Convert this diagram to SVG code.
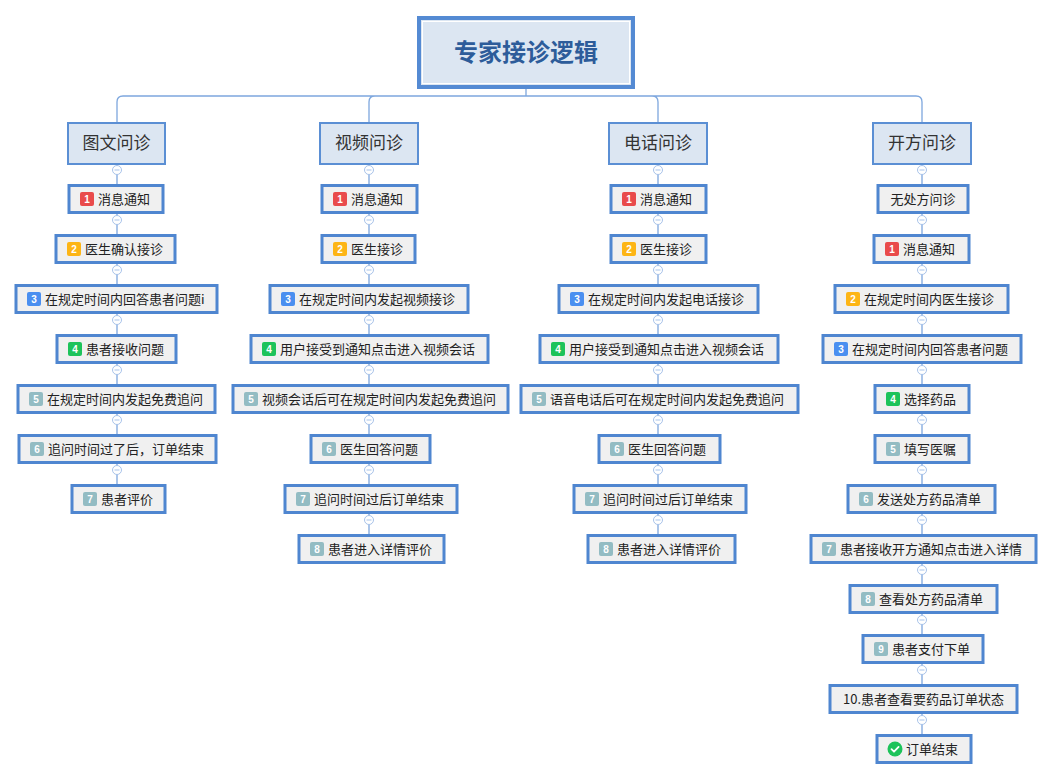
<svg xmlns="http://www.w3.org/2000/svg" width="1052" height="781" viewBox="0 0 1052 781">
<defs>
<style>
.title{fill:#dce6f2;stroke:#548ad3;stroke-width:4}
.ttl{font-family:"Noto Sans CJK SC",sans-serif;font-size:24px;font-weight:bold;fill:#2d5c9a;text-anchor:middle}
.br{fill:#dce6f2;stroke:#5b8fd4;stroke-width:2}
.brt{font-family:"Noto Sans CJK SC",sans-serif;font-size:17px;fill:#333;text-anchor:middle}
.box{fill:#f0f0f0;stroke:#4f86d0;stroke-width:3}
.t{font-family:"Noto Sans CJK SC",sans-serif;font-size:13px;fill:#222}
.tm{font-family:"Noto Sans CJK SC",sans-serif;font-size:13px;fill:#222;text-anchor:middle}
.n{font-family:"Liberation Sans",sans-serif;font-size:10px;font-weight:bold;fill:#fff;text-anchor:middle}
.b1{fill:#e94b4b}.b2{fill:#fdb515}.b3{fill:#4a8ff0}.b4{fill:#1dc35a}.b5{fill:#93bcc3}
.ln{fill:none;stroke:#7ea7de;stroke-width:1.3}
.fc{fill:#fff;stroke:#a8c3ea;stroke-width:1}
.fm{stroke:#a8c3ea;stroke-width:1}
</style>
<symbol id="fold" overflow="visible"><circle class="fc" cx="0" cy="0" r="4.5"/><line class="fm" x1="-2.5" y1="0" x2="2.5" y2="0"/></symbol>
</defs>
<rect width="1052" height="781" fill="#fff"/>
<g id="connectors">
<path class="ln" d="M526 89V96M117 122V102Q117 96 123 96H916Q922 96 922 102V122M375 96Q369 96 369 102V122M652 96Q658 96 658 102V122"/>
<path class="ln" d="M117 164V485M369 164V535M658 164V535M922 164V735"/>
<use href="#fold" x="117" y="170"/><use href="#fold" x="117" y="220"/><use href="#fold" x="117" y="270"/><use href="#fold" x="117" y="320"/><use href="#fold" x="117" y="370"/><use href="#fold" x="117" y="420"/><use href="#fold" x="117" y="470"/>
<use href="#fold" x="369" y="170"/><use href="#fold" x="369" y="220"/><use href="#fold" x="369" y="270"/><use href="#fold" x="369" y="320"/><use href="#fold" x="369" y="370"/><use href="#fold" x="369" y="420"/><use href="#fold" x="369" y="470"/><use href="#fold" x="369" y="520"/>
<use href="#fold" x="658" y="170"/><use href="#fold" x="658" y="220"/><use href="#fold" x="658" y="270"/><use href="#fold" x="658" y="320"/><use href="#fold" x="658" y="370"/><use href="#fold" x="658" y="420"/><use href="#fold" x="658" y="470"/><use href="#fold" x="658" y="520"/>
<use href="#fold" x="922" y="170"/><use href="#fold" x="922" y="220"/><use href="#fold" x="922" y="270"/><use href="#fold" x="922" y="320"/><use href="#fold" x="922" y="370"/><use href="#fold" x="922" y="420"/><use href="#fold" x="922" y="470"/><use href="#fold" x="922" y="520"/><use href="#fold" x="922" y="570"/><use href="#fold" x="922" y="620"/><use href="#fold" x="922" y="670"/><use href="#fold" x="922" y="720"/>
</g>
<g id="root"><rect class="title" x="419" y="18" width="214" height="69"/><rect x="422.5" y="21.5" width="207" height="62" fill="none" stroke="#fff" stroke-width="1"/><text class="ttl" x="526" y="61">专家接诊逻辑</text></g>
<g id="b1"><rect class="br" x="68" y="123" width="97" height="41"/><text class="brt" x="116.5" y="149">图文问诊</text></g>
<g id="b2"><rect class="br" x="320" y="123" width="98" height="41"/><text class="brt" x="369" y="149">视频问诊</text></g>
<g id="b3"><rect class="br" x="609" y="123" width="98" height="41"/><text class="brt" x="658" y="149">电话问诊</text></g>
<g id="b4"><rect class="br" x="873" y="123" width="98" height="41"/><text class="brt" x="922" y="149">开方问诊</text></g>

<g id="c1-1"><rect class="box" x="69" y="185.5" width="94" height="27"/><rect class="b1" x="80" y="192" width="14" height="14" rx="2"/><text class="n" x="87" y="202.5">1</text><text class="t" x="98" y="203.5">消息通知</text></g>
<g id="c1-2"><rect class="box" x="56" y="235.5" width="119" height="27"/><rect class="b2" x="67" y="242" width="14" height="14" rx="2"/><text class="n" x="74" y="252.5">2</text><text class="t" x="85" y="253.5">医生确认接诊</text></g>
<g id="c1-3"><rect class="box" x="16" y="285.5" width="201" height="27"/><rect class="b3" x="27" y="292" width="14" height="14" rx="2"/><text class="n" x="34" y="302.5">3</text><text class="t" x="45" y="303.5">在规定时间内回答患者问题i</text></g>
<g id="c1-4"><rect class="box" x="57" y="335.5" width="119" height="27"/><rect class="b4" x="68" y="342" width="14" height="14" rx="2"/><text class="n" x="75" y="352.5">4</text><text class="t" x="86" y="353.5">患者接收问题</text></g>
<g id="c1-5"><rect class="box" x="18" y="385.5" width="197" height="27"/><rect class="b5" x="29" y="392" width="14" height="14" rx="2"/><text class="n" x="36" y="402.5">5</text><text class="t" x="47" y="403.5">在规定时间内发起免费追问</text></g>
<g id="c1-6"><rect class="box" x="19" y="435.5" width="197" height="27"/><rect class="b5" x="30" y="442" width="14" height="14" rx="2"/><text class="n" x="37" y="452.5">6</text><text class="t" x="48" y="453.5">追问时间过了后，订单结束</text></g>
<g id="c1-7"><rect class="box" x="72" y="485.5" width="93" height="27"/><rect class="b5" x="83" y="492" width="14" height="14" rx="2"/><text class="n" x="90" y="502.5">7</text><text class="t" x="101" y="503.5">患者评价</text></g>

<g id="c2-1"><rect class="box" x="322" y="185.5" width="95" height="27"/><rect class="b1" x="333" y="192" width="14" height="14" rx="2"/><text class="n" x="340" y="202.5">1</text><text class="t" x="351" y="203.5">消息通知</text></g>
<g id="c2-2"><rect class="box" x="322" y="235.5" width="93" height="27"/><rect class="b2" x="333" y="242" width="14" height="14" rx="2"/><text class="n" x="340" y="252.5">2</text><text class="t" x="351" y="253.5">医生接诊</text></g>
<g id="c2-3"><rect class="box" x="270" y="285.5" width="198" height="27"/><rect class="b3" x="281" y="292" width="14" height="14" rx="2"/><text class="n" x="288" y="302.5">3</text><text class="t" x="299" y="303.5">在规定时间内发起视频接诊</text></g>
<g id="c2-4"><rect class="box" x="251" y="335.5" width="237" height="27"/><rect class="b4" x="262" y="342" width="14" height="14" rx="2"/><text class="n" x="269" y="352.5">4</text><text class="t" x="280" y="353.5">用户接受到通知点击进入视频会话</text></g>
<g id="c2-5"><rect class="box" x="233" y="385.5" width="275" height="27"/><rect class="b5" x="244" y="392" width="14" height="14" rx="2"/><text class="n" x="251" y="402.5">5</text><text class="t" x="262" y="403.5">视频会话后可在规定时间内发起免费追问</text></g>
<g id="c2-6"><rect class="box" x="311" y="435.5" width="119" height="27"/><rect class="b5" x="322" y="442" width="14" height="14" rx="2"/><text class="n" x="329" y="452.5">6</text><text class="t" x="340" y="453.5">医生回答问题</text></g>
<g id="c2-7"><rect class="box" x="285" y="485.5" width="172" height="27"/><rect class="b5" x="296" y="492" width="14" height="14" rx="2"/><text class="n" x="303" y="502.5">7</text><text class="t" x="314" y="503.5">追问时间过后订单结束</text></g>
<g id="c2-8"><rect class="box" x="299" y="535.5" width="145" height="27"/><rect class="b5" x="310" y="542" width="14" height="14" rx="2"/><text class="n" x="317" y="552.5">8</text><text class="t" x="328" y="553.5">患者进入详情评价</text></g>

<g id="c3-1"><rect class="box" x="611" y="185.5" width="95" height="27"/><rect class="b1" x="622" y="192" width="14" height="14" rx="2"/><text class="n" x="629" y="202.5">1</text><text class="t" x="640" y="203.5">消息通知</text></g>
<g id="c3-2"><rect class="box" x="611" y="235.5" width="95" height="27"/><rect class="b2" x="622" y="242" width="14" height="14" rx="2"/><text class="n" x="629" y="252.5">2</text><text class="t" x="640" y="253.5">医生接诊</text></g>
<g id="c3-3"><rect class="box" x="559" y="285.5" width="199" height="27"/><rect class="b3" x="570" y="292" width="14" height="14" rx="2"/><text class="n" x="577" y="302.5">3</text><text class="t" x="588" y="303.5">在规定时间内发起电话接诊</text></g>
<g id="c3-4"><rect class="box" x="540" y="335.5" width="238" height="27"/><rect class="b4" x="551" y="342" width="14" height="14" rx="2"/><text class="n" x="558" y="352.5">4</text><text class="t" x="569" y="353.5">用户接受到通知点击进入视频会话</text></g>
<g id="c3-5"><rect class="box" x="521" y="385.5" width="277" height="27"/><rect class="b5" x="532" y="392" width="14" height="14" rx="2"/><text class="n" x="539" y="402.5">5</text><text class="t" x="550" y="403.5">语音电话后可在规定时间内发起免费追问</text></g>
<g id="c3-6"><rect class="box" x="599" y="435.5" width="121" height="27"/><rect class="b5" x="610" y="442" width="14" height="14" rx="2"/><text class="n" x="617" y="452.5">6</text><text class="t" x="628" y="453.5">医生回答问题</text></g>
<g id="c3-7"><rect class="box" x="574" y="485.5" width="172" height="27"/><rect class="b5" x="585" y="492" width="14" height="14" rx="2"/><text class="n" x="592" y="502.5">7</text><text class="t" x="603" y="503.5">追问时间过后订单结束</text></g>
<g id="c3-8"><rect class="box" x="588" y="535.5" width="147" height="27"/><rect class="b5" x="599" y="542" width="14" height="14" rx="2"/><text class="n" x="606" y="552.5">8</text><text class="t" x="617" y="553.5">患者进入详情评价</text></g>

<g id="c4-0"><rect class="box" x="878" y="185.5" width="90" height="27"/><text class="tm" x="923" y="203.5">无处方问诊</text></g>
<g id="c4-1"><rect class="box" x="874" y="235.5" width="95" height="27"/><rect class="b1" x="885" y="242" width="14" height="14" rx="2"/><text class="n" x="892" y="252.5">1</text><text class="t" x="903" y="253.5">消息通知</text></g>
<g id="c4-2"><rect class="box" x="835" y="285.5" width="173" height="27"/><rect class="b2" x="846" y="292" width="14" height="14" rx="2"/><text class="n" x="853" y="302.5">2</text><text class="t" x="864" y="303.5">在规定时间内医生接诊</text></g>
<g id="c4-3"><rect class="box" x="823" y="335.5" width="198" height="27"/><rect class="b3" x="834" y="342" width="14" height="14" rx="2"/><text class="n" x="841" y="352.5">3</text><text class="t" x="852" y="353.5">在规定时间内回答患者问题</text></g>
<g id="c4-4"><rect class="box" x="875" y="385.5" width="94" height="27"/><rect class="b4" x="886" y="392" width="14" height="14" rx="2"/><text class="n" x="893" y="402.5">4</text><text class="t" x="904" y="403.5">选择药品</text></g>
<g id="c4-5"><rect class="box" x="875" y="435.5" width="94" height="27"/><rect class="b5" x="886" y="442" width="14" height="14" rx="2"/><text class="n" x="893" y="452.5">5</text><text class="t" x="904" y="453.5">填写医嘱</text></g>
<g id="c4-6"><rect class="box" x="848" y="485.5" width="147" height="27"/><rect class="b5" x="859" y="492" width="14" height="14" rx="2"/><text class="n" x="866" y="502.5">6</text><text class="t" x="877" y="503.5">发送处方药品清单</text></g>
<g id="c4-7"><rect class="box" x="811" y="535.5" width="225" height="27"/><rect class="b5" x="822" y="542" width="14" height="14" rx="2"/><text class="n" x="829" y="552.5">7</text><text class="t" x="840" y="553.5">患者接收开方通知点击进入详情</text></g>
<g id="c4-8"><rect class="box" x="850" y="585.5" width="147" height="27"/><rect class="b5" x="861" y="592" width="14" height="14" rx="2"/><text class="n" x="868" y="602.5">8</text><text class="t" x="879" y="603.5">查看处方药品清单</text></g>
<g id="c4-9"><rect class="box" x="863" y="635.5" width="120" height="27"/><rect class="b5" x="874" y="642" width="14" height="14" rx="2"/><text class="n" x="881" y="652.5">9</text><text class="t" x="892" y="653.5">患者支付下单</text></g>
<g id="c4-10"><rect class="box" x="830" y="685.5" width="187" height="27"/><text class="tm" x="923.5" y="703.5">10.患者查看要药品订单状态</text></g>
<g id="c4-11"><rect class="box" x="877" y="735.5" width="94" height="27"/><circle cx="895" cy="749" r="7.5" fill="#1dc35a"/><path d="M891.5 749.2l2.5 2.5 4.6-4.8" fill="none" stroke="#fff" stroke-width="1.8" stroke-linecap="round" stroke-linejoin="round"/><text class="t" x="906" y="753.5">订单结束</text></g>
</svg>
